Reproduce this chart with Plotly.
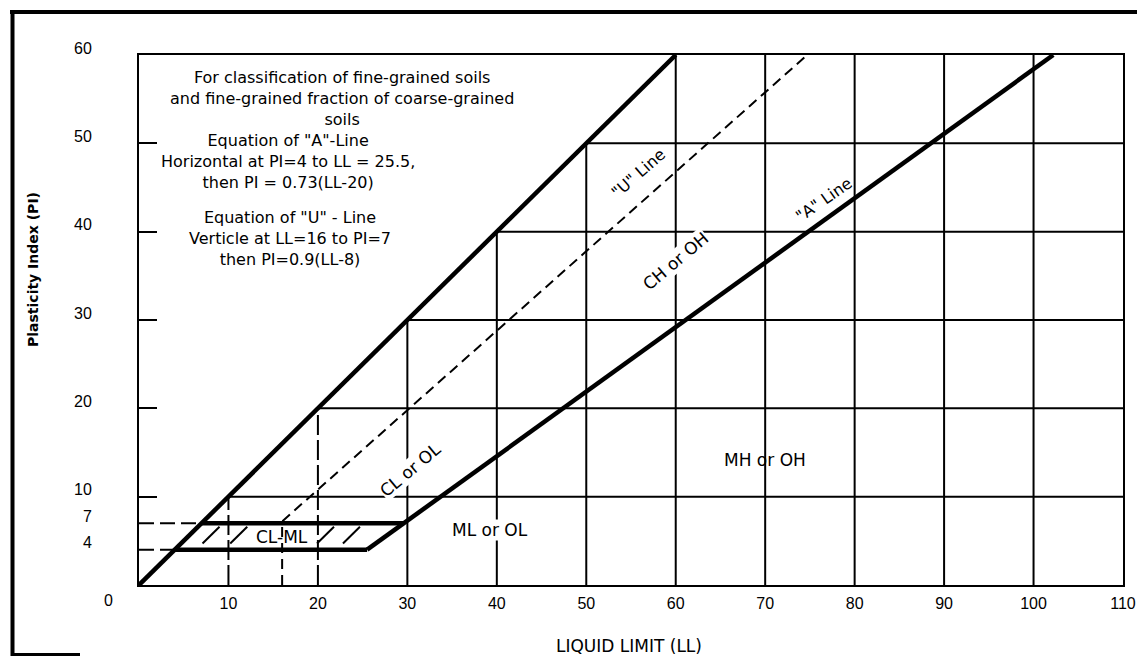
import plotly.graph_objects as go

# ---- data ----
ll_ticks = [10, 20, 30, 40, 50, 60, 70, 80, 90, 100, 110]
pi_ticks = [4, 7, 10, 20, 30, 40, 50, 60]
grid_ll = [10, 20, 30, 40, 50, 60, 70, 80, 90, 100]
grid_pi = [10, 20, 30, 40, 50]
dashed_grid_ll = [10, 20]
inner_tick_pi = [10, 20, 30, 40, 50]

upper_ll = [0, 60]
upper_pi = [0, 60]
a_line_ll = [25.5, 102.2]
a_line_pi = [4, 60]
u_line_ll = [16, 16, 74.7]
u_line_pi = [0, 7.2, 60]
band_bottom_ll = [4, 25.5]
band_bottom_pi = [4, 4]
band_top_ll = [7, 29.6]
band_top_pi = [7, 7]
leader_ll = [0, 4, None, 0, 7]
leader_pi = [4, 4, None, 7, 7]
hatch_ll = [7.1, 10.2, 19.9, 22.8]
hatch_pi = [4.7, 6.6]
hatch_dx = 1.9

LL_MAX = 110
PI_MAX = 60

FONT = "DejaVu Sans"
TICKFONT = "Liberation Sans"

W, H = 1137, 658
ML, MR, MT, MB = 139, 14, 55, 73
PW, PH = W - ML - MR, H - MT - MB

def px(xpage):  # page pixel -> paper x
    return (xpage - ML) / PW

def py(ypage):  # page pixel -> paper y
    return (H - MB - ypage) / PH

fig = go.Figure()

def seg_trace(xs, ys, width=2, dash="solid", color="black"):
    fig.add_trace(go.Scatter(x=xs, y=ys, mode="lines",
                             line=dict(color=color, width=width, dash=dash),
                             hoverinfo="skip", showlegend=False))

# grid clipped to the region under the PI = LL line
vx, vy, dvx, dvy = [], [], [], []
for ll in grid_ll:
    top = min(ll, PI_MAX)
    if ll in dashed_grid_ll:
        dvx += [ll, ll, None]; dvy += [0, top, None]
    else:
        vx += [ll, ll, None]; vy += [0, top, None]
hx, hy = [], []
for pi in grid_pi:
    hx += [pi, LL_MAX, None]; hy += [pi, pi, None]
seg_trace(vx, vy, width=2)
seg_trace(dvx, dvy, width=2, dash="20px,5px")
seg_trace(hx, hy, width=2)

# dashed leaders at PI = 4 and 7
seg_trace(leader_ll, leader_pi, width=2, dash="15px,6px")

# hatching of CL-ML zone
hxs, hys = [], []
for s in hatch_ll:
    hxs += [s, s + hatch_dx, None]; hys += [hatch_pi[0], hatch_pi[1], None]
seg_trace(hxs, hys, width=2)

# U-line
seg_trace(u_line_ll, u_line_pi, width=2, dash="10px,6px")

# thick lines
seg_trace(upper_ll, upper_pi, width=4.5)
seg_trace(a_line_ll, a_line_pi, width=4.5)
seg_trace(band_bottom_ll, band_bottom_pi, width=4.5)
seg_trace(band_top_ll, band_top_pi, width=4.5)

ann = []
def label(text, x, y, angle=0, size=17, bg=None, align="center"):
    d = dict(text=text, x=x, y=y, xref="x", yref="y", showarrow=False,
             textangle=angle, font=dict(family=FONT, size=size, color="black"),
             align=align, xanchor="center", yanchor="middle")
    if bg:
        d["bgcolor"] = bg
        d["borderpad"] = 0
    ann.append(d)

label("For classification of fine-grained soils<br>and fine-grained fraction of coarse-grained<br>soils",
      22.7, 55.1, size=16)
label('Equation of "A"-Line<br>Horizontal at PI=4 to LL = 25.5,<br>then PI = 0.73(LL-20)',
      16.7, 47.9, size=16)
label('Equation of "U" - Line<br>Verticle at LL=16 to PI=7<br>then PI=0.9(LL-8)',
      16.9, 39.2, size=16)

label('"U" Line', 55.8, 46.6, angle=-41, size=16)
label('"A" Line', 76.6, 43.6, angle=-35, size=16)
label("CH or OH", 60.0, 36.7, angle=-40, size=17, bg="white")
label("CL or OL", 30.3, 13.0, angle=-40, size=17, bg="white")
label("MH or OH", 70.0, 14.2, size=17)
label("ML or OL", 39.2, 6.2, size=17, bg="white")
label("CL-ML", 16.0, 5.4, size=17)

# origin label
ann.append(dict(text="0", x=0, y=0, xref="x", yref="y", showarrow=False,
                xshift=-31, yshift=-15, font=dict(family=TICKFONT, size=16, color="black")))

# axis titles
ann.append(dict(text="<b>Plasticity Index (PI)</b>", x=px(33), y=py(270), xref="paper", yref="paper",
                showarrow=False, textangle=-90, font=dict(family=FONT, size=14, color="black"),
                xanchor="center", yanchor="middle"))
ann.append(dict(text="LIQUID LIMIT (LL)", x=px(629), y=py(646), xref="paper", yref="paper",
                showarrow=False, font=dict(family=FONT, size=17, color="black"),
                xanchor="center", yanchor="middle"))

# outer frame (page decoration)
shapes = [
    dict(type="line", xref="paper", yref="paper", x0=px(10), y0=py(12), x1=px(1137), y1=py(12),
         line=dict(color="black", width=4)),
    dict(type="line", xref="paper", yref="paper", x0=px(12.5), y0=py(10), x1=px(12.5), y1=py(656),
         line=dict(color="black", width=4)),
    dict(type="line", xref="paper", yref="paper", x0=px(11), y0=py(654.5), x1=px(80), y1=py(654.5),
         line=dict(color="black", width=3)),
]

fig.update_layout(
    width=W, height=H,
    margin=dict(l=ML, r=MR, t=MT, b=MB, autoexpand=False),
    paper_bgcolor="white", plot_bgcolor="white",
    annotations=ann, shapes=shapes,
    xaxis=dict(range=[0, LL_MAX], showgrid=False, zeroline=False,
               showline=True, mirror=True, linecolor="black", linewidth=2,
               tickmode="array", tickvals=ll_ticks, ticks="",
               ticklabelstandoff=3,
               tickfont=dict(family=TICKFONT, size=16, color="black")),
    yaxis=dict(range=[0, PI_MAX], showgrid=False, zeroline=False,
               showline=True, mirror=True, linecolor="black", linewidth=2,
               tickmode="array", tickvals=pi_ticks, ticks="",
               ticklabelstandoff=42, ticklabelshift=-7,
               tickfont=dict(family=TICKFONT, size=16, color="black"),
               minor=dict(tickmode="array", tickvals=inner_tick_pi, ticks="inside",
                          ticklen=18, tickwidth=2, tickcolor="black", showgrid=False)),
)

fig.write_html("out.html", config={"displayModeBar": False},
               post_script="document.body.style.margin='0';document.body.style.overflow='hidden';")
